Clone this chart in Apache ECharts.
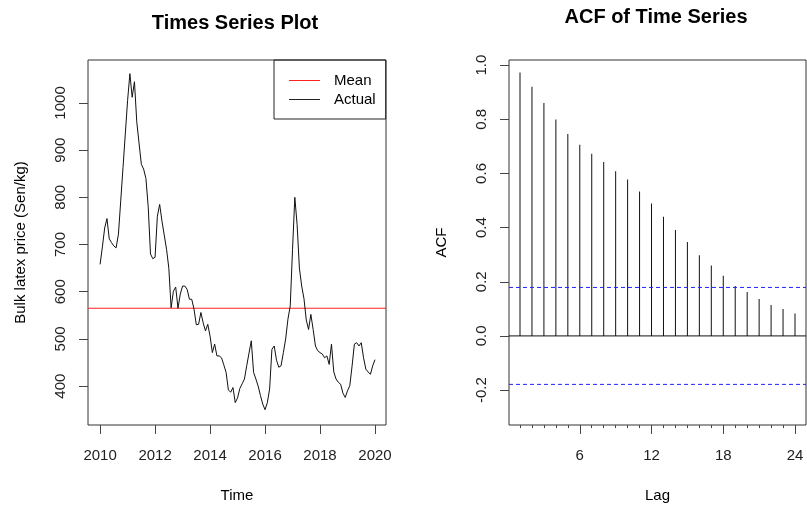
<!DOCTYPE html>
<html>
<head>
<meta charset="utf-8">
<script src="https://cdn.jsdelivr.net/npm/echarts@6/dist/echarts.min.js"></script>
<style>
  html, body { margin: 0; padding: 0; background: #fff; }
  #chart { width: 807px; height: 508px; }
</style>
</head>
<body>
<div id="chart"></div>
<script>
  // monthly bulk latex price, Jan 2010 onwards
  const startYear = 2010;
  const latexPrice = [
    658, 695, 735, 755, 712, 704, 697, 693, 722, 792, 863, 934,
    1005, 1062, 1012, 1045, 960, 915, 870, 860, 840, 780, 680, 670,
    673, 760, 785, 750, 720, 690, 650, 566, 601, 610, 565, 595,
    612, 612, 605, 584, 584, 563, 530, 531, 556, 534, 517, 531,
    506, 471, 489, 464, 464, 460, 445, 429, 392, 387, 397, 365,
    375, 395, 405, 415, 443, 470, 496, 429, 415, 400, 380, 362,
    350, 365, 394, 478, 485, 455, 440, 443, 471, 500, 542, 570,
    690, 800, 742, 650, 612, 585, 540, 520, 552, 520, 485, 475,
    471, 468, 460, 464, 446, 489, 430, 415, 408, 404, 385, 376,
    390, 401, 443, 489, 492, 485, 492, 460, 436, 430, 425, 443,
    456
  ];
  const meanPrice = 565;
  const timeTicks = [2010, 2012, 2014, 2016, 2018, 2020];
  const priceTicks = [400, 500, 600, 700, 800, 900, 1000];
  const timeRange = [2009.56, 2020.4];
  const priceRange = [317.6, 1091];

  const acfLags = [1, 2, 3, 4, 5, 6, 7, 8, 9, 10, 11, 12, 13, 14, 15, 16, 17, 18, 19, 20, 21, 22, 23, 24];
  const acfValues = [0.973, 0.920, 0.860, 0.799, 0.746, 0.706, 0.673, 0.642, 0.608, 0.578, 0.533, 0.489,
                     0.440, 0.391, 0.347, 0.298, 0.260, 0.222, 0.184, 0.162, 0.136, 0.114, 0.099, 0.083];
  const ciBound = 0.179;
  const lagTicks = [6, 12, 18, 24];
  const acfTicks = [-0.2, 0, 0.2, 0.4, 0.6, 0.8, 1.0];
  const lagRange = [0.08, 24.92];
  const acfRange = [-0.329, 1.019];

  const font = 'Liberation Sans';
  const ink = '#000';
  const ciBlue = '#2222ff';

  let chart = echarts.init(document.getElementById('chart'));

  let priceData = latexPrice.map((v, i) => [startYear + i / 12, v]);
  let acfData = acfLags.map((lag, i) => [lag, acfValues[i]]);
  // horizontal reference line across the whole axis range
  let hline = (range, y) => [[range[0], y], [range[1], y]];
  // both confidence bounds in one series, split by an empty point
  let ciData = hline(lagRange, ciBound).concat([[lagRange[1], '-']], hline(lagRange, -ciBound));

  let yAxisBase = {
    type: 'value',
    nameLocation: 'middle',
    nameRotate: 90,
    nameTextStyle: { fontFamily: font, fontSize: 15, color: ink },
    axisLine: { show: false, onZero: false },
    splitLine: { show: false },
    axisTick: { show: true, length: 9, lineStyle: { color: '#444' } },
    axisLabel: { rotate: 90, margin: 20, fontFamily: font, fontSize: 15, color: '#222' }
  };
  let xAxisBase = {
    type: 'value',
    position: 'bottom',
    nameLocation: 'middle',
    nameTextStyle: { fontFamily: font, fontSize: 15, color: ink },
    axisLine: { show: false, onZero: false },
    splitLine: { show: false },
    axisTick: { show: true, length: 9, lineStyle: { color: '#444' } },
    axisLabel: { margin: 23, fontFamily: font, fontSize: 15, color: '#222' }
  };
  let refLine = (name, xi, data, color, type, z) => ({
    name: name,
    type: 'line',
    xAxisIndex: xi, yAxisIndex: xi === 0 ? 0 : 1,
    data: data,
    silent: true,
    z: z,
    showSymbol: false,
    connectNulls: false,
    color: color,
    lineStyle: { color: color, width: 1, type: type },
    emphasis: { disabled: true }
  });

  chart.setOption({
    animation: false,
    backgroundColor: '#fff',
    title: [{
      text: 'Times Series Plot',
      left: 230, top: 8, textAlign: 'center',
      textStyle: { fontFamily: font, fontSize: 20, fontWeight: 'bold', color: ink }
    }, {
      text: 'ACF of Time Series',
      left: 651, top: 2, textAlign: 'center',
      textStyle: { fontFamily: font, fontSize: 20, fontWeight: 'bold', color: ink }
    }],
    legend: {
      left: 274, top: 60,
      orient: 'vertical',
      padding: [13, 10, 12, 15],
      itemGap: 4,
      itemWidth: 31,
      itemHeight: 1,
      borderColor: '#222',
      borderWidth: 1,
      textStyle: { fontFamily: font, fontSize: 15, color: ink, padding: [0, 0, 0, 9] },
      data: [
        { name: 'Mean', icon: 'rect' },
        { name: 'Actual', icon: 'rect' }
      ]
    },
    grid: [
      { left: 88, top: 60, width: 298, height: 366, show: true, borderColor: '#333', borderWidth: 1, backgroundColor: 'transparent' },
      { left: 509, top: 60, width: 297, height: 366, show: true, borderColor: '#333', borderWidth: 1, backgroundColor: 'transparent' }
    ],
    xAxis: [
      Object.assign({}, xAxisBase, {
        gridIndex: 0, min: timeRange[0], max: timeRange[1],
        name: 'Time', nameGap: 63,
        axisTick: Object.assign({}, xAxisBase.axisTick, { customValues: timeTicks }),
        axisLabel: Object.assign({}, xAxisBase.axisLabel, { customValues: timeTicks, formatter: v => String(v) })
      }),
      Object.assign({}, xAxisBase, {
        gridIndex: 1, min: lagRange[0], max: lagRange[1],
        name: 'Lag', nameGap: 63,
        axisTick: Object.assign({}, xAxisBase.axisTick, { customValues: lagTicks }),
        axisLabel: Object.assign({}, xAxisBase.axisLabel, { customValues: lagTicks, formatter: v => String(v) })
      }),
      // short ticks at every lag
      Object.assign({}, xAxisBase, {
        gridIndex: 1, min: lagRange[0], max: lagRange[1],
        axisTick: { show: true, length: 3, customValues: acfLags, lineStyle: { color: '#444' } },
        axisLabel: { show: false }
      })
    ],
    yAxis: [
      Object.assign({}, yAxisBase, {
        gridIndex: 0, min: priceRange[0], max: priceRange[1],
        name: 'Bulk latex price (Sen/kg)', nameGap: 60,
        axisTick: Object.assign({}, yAxisBase.axisTick, { customValues: priceTicks }),
        axisLabel: Object.assign({}, yAxisBase.axisLabel, { customValues: priceTicks, formatter: v => String(v) })
      }),
      Object.assign({}, yAxisBase, {
        gridIndex: 1, min: acfRange[0], max: acfRange[1],
        name: 'ACF', nameGap: 60,
        axisTick: Object.assign({}, yAxisBase.axisTick, { customValues: acfTicks }),
        axisLabel: Object.assign({}, yAxisBase.axisLabel, {
          customValues: acfTicks,
          formatter: v => v.toFixed(1)
        })
      })
    ],
    series: [
      refLine('Mean', 0, hline(timeRange, meanPrice), '#ff2020', 'solid', 3),
      {
        name: 'Actual',
        type: 'line',
        xAxisIndex: 0, yAxisIndex: 0,
        data: priceData,
        color: '#222',
        showSymbol: false,
        lineStyle: { color: '#111', width: 1 }
      },
      {
        name: 'ACF',
        type: 'bar',
        xAxisIndex: 1, yAxisIndex: 1,
        data: acfData,
        barWidth: 1,
        z: 2,
        itemStyle: { color: '#111' }
      },
      refLine('zero', 1, hline(lagRange, 0), '#111', 'solid', 3),
      refLine('ciBounds', 1, ciData, ciBlue, [4, 3], 4)
    ]
  });
</script>
</body>
</html>
